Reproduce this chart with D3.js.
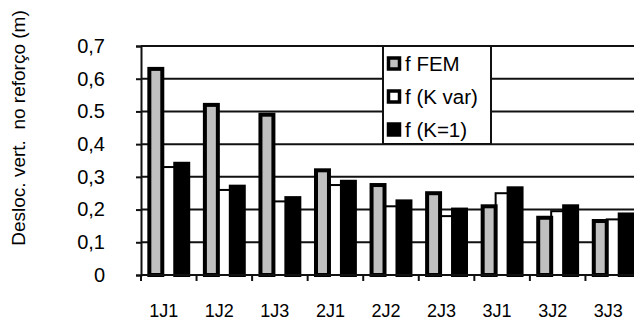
<!DOCTYPE html>
<html>
<head>
<meta charset="utf-8">
<script src="https://cdn.jsdelivr.net/npm/d3@7/dist/d3.min.js"></script>
<style>
  html, body { margin: 0; padding: 0; background: #fff; }
  svg { display: block; font-family: "Liberation Sans", Arial, sans-serif; }
</style>
</head>
<body>
<svg id="chart" width="634" height="325"></svg>
<script>
// Vertical displacement at the reinforcement, per case
const categories = ["1J1", "1J2", "1J3", "2J1", "2J2", "2J3", "3J1", "3J2", "3J3"];
const seriesNames = ["f FEM", "f (K var)", "f (K=1)"];
const fFEM  = [0.63, 0.52, 0.49, 0.32, 0.275, 0.25, 0.21, 0.175, 0.165];
const fKvar = [0.33, 0.26, 0.225, 0.275, 0.21, 0.18, 0.25, 0.195, 0.17];
const fK1   = [0.34, 0.27, 0.235, 0.285, 0.225, 0.20, 0.265, 0.21, 0.185];
const yTickValues = [0, 0.1, 0.2, 0.3, 0.4, 0.5, 0.6, 0.7];
const yTickLabels = ["0", "0,1", "0,2", "0,3", "0,4", "0.5", "0,6", "0,7"];
const yTitle = "Desloc. vert.  no reforço (m)";

const seriesValues = [fFEM, fKvar, fK1];
const fills = ["#c0c0c0", "#ffffff", "#000000"];
const strokeW = [4, 2, 4];

const svg = d3.select("#chart");
const plot = { left: 141, right: 641, top: 46, bottom: 275 };

const x0 = d3.scaleBand().domain(categories).range([plot.left, plot.right])
  .paddingInner(0.3).paddingOuter(0.15);
const x1 = d3.scaleBand().domain(seriesNames).range([0, x0.bandwidth()]);
const y = d3.scaleLinear().domain([0, 0.7]).range([plot.bottom, plot.top]);

// horizontal gridlines
svg.append("g").selectAll("line").data(yTickValues.filter(v => v > 0)).join("line")
  .attr("x1", plot.left).attr("x2", plot.right)
  .attr("y1", d => y(d)).attr("y2", d => y(d))
  .attr("stroke", "#111").attr("stroke-width", 2);

// bars: white series first so the heavy outlines of its neighbours sit on top
const drawOrder = [1, 0, 2];
drawOrder.forEach(si => {
  svg.append("g").selectAll("rect").data(categories).join("rect")
    .attr("x", (c) => x0(c) + x1(seriesNames[si]))
    .attr("width", x1.bandwidth())
    .attr("y", (c, i) => y(seriesValues[si][i]))
    .attr("height", (c, i) => y(0) - y(seriesValues[si][i]))
    .attr("fill", fills[si])
    .attr("stroke", "#000")
    .attr("stroke-width", strokeW[si]);
});

// y axis
const yAxis = svg.append("g").attr("transform", `translate(${plot.left},0)`)
  .call(d3.axisLeft(y).tickValues(yTickValues)
    .tickFormat((d, i) => yTickLabels[i]).tickSize(5).tickPadding(31));
yAxis.select(".domain").attr("stroke", "#111").attr("stroke-width", 2);
yAxis.selectAll(".tick line").attr("stroke", "#111").attr("stroke-width", 2);
yAxis.selectAll(".tick text").attr("font-size", 20).attr("fill", "#000")
  .attr("font-family", "Liberation Sans, Arial, sans-serif");

// x axis: ticks at category boundaries
const bounds = categories.map(c => x0(c) - x0.step() * x0.paddingOuter());
bounds.push(plot.right);
const xAxis = svg.append("g");
xAxis.append("line").attr("x1", plot.left).attr("x2", plot.right)
  .attr("y1", plot.bottom).attr("y2", plot.bottom)
  .attr("stroke", "#111").attr("stroke-width", 2);
xAxis.selectAll("line.tk").data(bounds).join("line").attr("class", "tk")
  .attr("x1", d => d).attr("x2", d => d)
  .attr("y1", plot.bottom).attr("y2", plot.bottom + 6)
  .attr("stroke", "#111").attr("stroke-width", 2);
xAxis.selectAll("text").data(categories).join("text")
  .attr("x", c => x0(c) + x0.bandwidth() / 2 - 5)
  .attr("y", 317)
  .attr("text-anchor", "middle")
  .attr("font-size", 18)
  .text(c => c);

// y title
svg.append("text")
  .attr("transform", "translate(25,128) rotate(-90)")
  .attr("text-anchor", "middle")
  .attr("font-size", 19)
  .style("white-space", "pre")
  .text(yTitle);

// legend
const lg = svg.append("g");
lg.append("rect").attr("x", 383).attr("y", 46).attr("width", 108).attr("height", 98)
  .attr("fill", "#fff").attr("stroke", "#111").attr("stroke-width", 2);
seriesNames.forEach((name, i) => {
  const cy = 64 + i * 33;
  lg.append("rect").attr("x", 388.5).attr("y", cy - 6).attr("width", 11).attr("height", 11)
    .attr("fill", fills[i]).attr("stroke", "#000").attr("stroke-width", 3.5);
  lg.append("text").attr("x", 405).attr("y", cy + 7)
    .attr("font-size", 20.5).text(name);
});
</script>
</body>
</html>
